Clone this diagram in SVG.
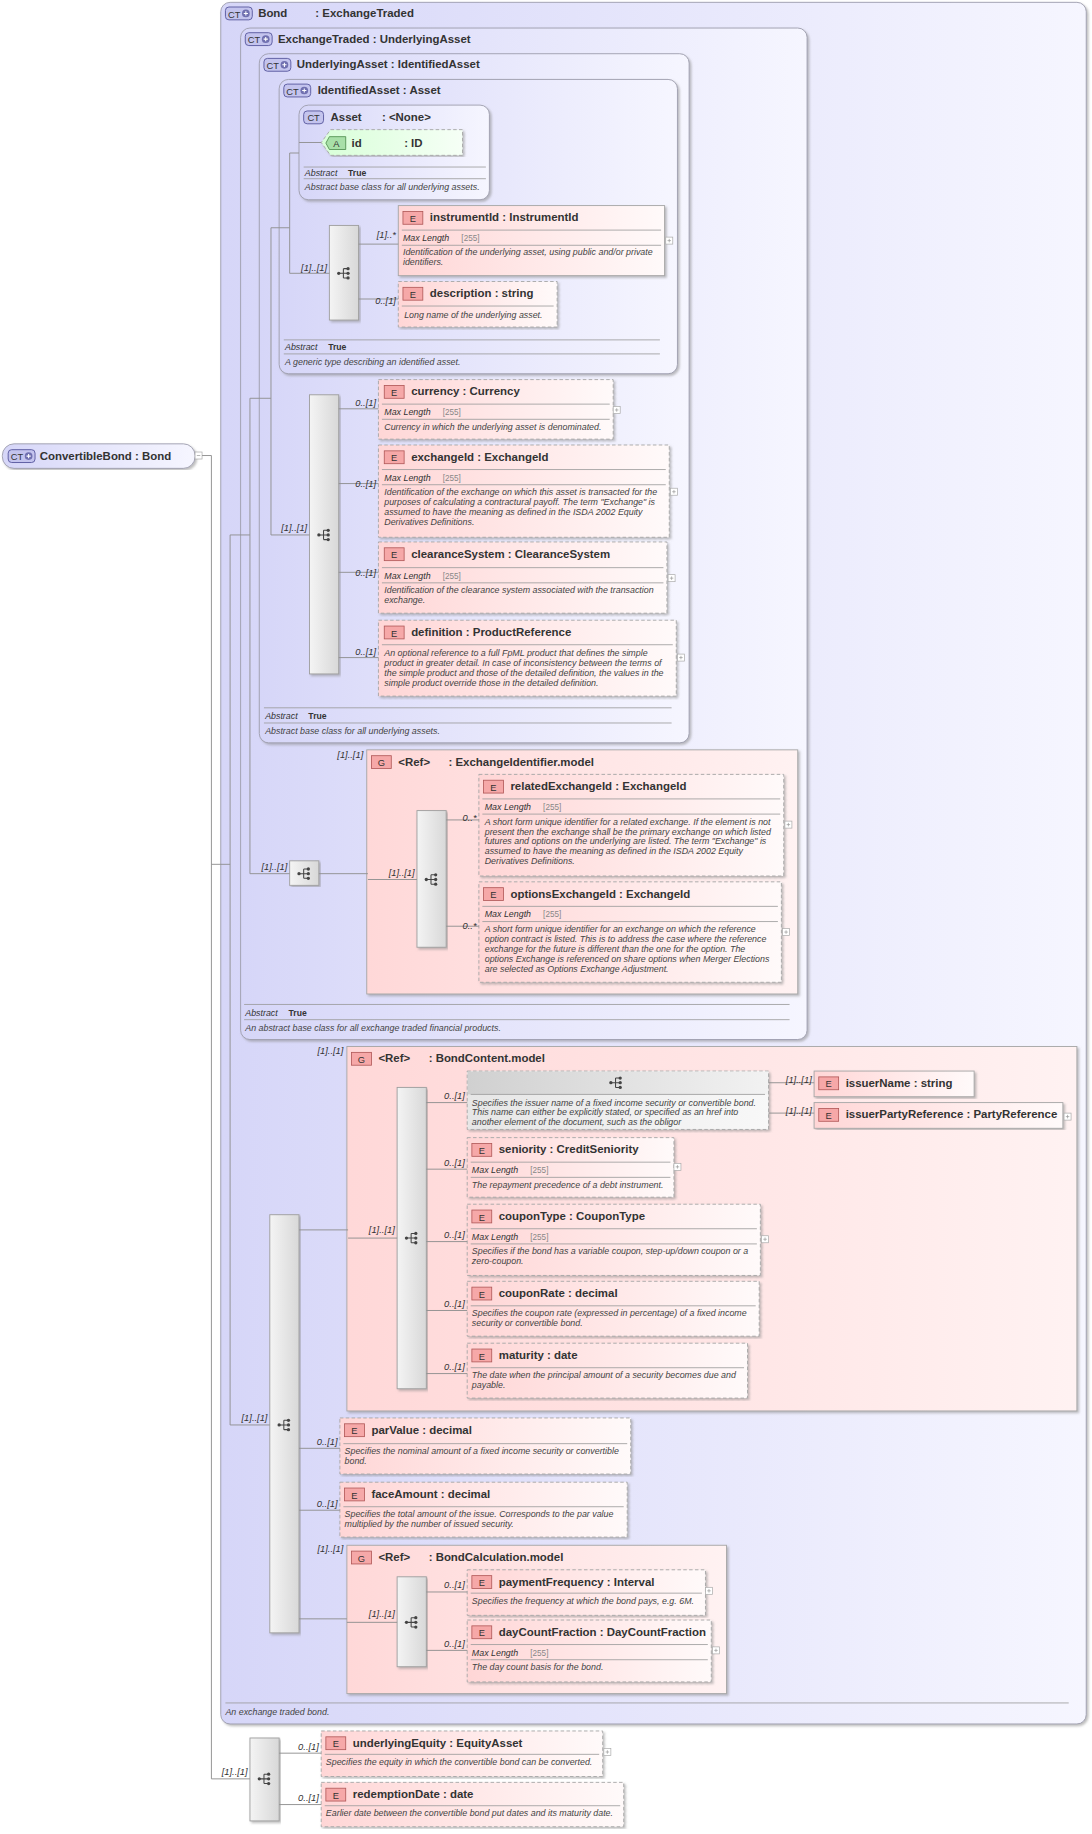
<svg xmlns="http://www.w3.org/2000/svg" xmlns:xlink="http://www.w3.org/1999/xlink" width="1092" height="1834" viewBox="0 0 1092 1834">
<defs>
<linearGradient id="gb" x1="0" y1="0" x2="1" y2="0"><stop offset="0" stop-color="#d6d6f8"/><stop offset="1" stop-color="#f6f6ff"/></linearGradient>
<linearGradient id="ge" x1="0" y1="0" x2="1" y2="0"><stop offset="0" stop-color="#ffd6d6"/><stop offset="1" stop-color="#fffafa"/></linearGradient>
<linearGradient id="gg" x1="0" y1="0" x2="1" y2="0"><stop offset="0" stop-color="#ffd8d8"/><stop offset="1" stop-color="#fff2f2"/></linearGradient>
<linearGradient id="ga" x1="0" y1="0" x2="1" y2="0"><stop offset="0" stop-color="#d8ffd8"/><stop offset="1" stop-color="#f6fff6"/></linearGradient>
<linearGradient id="gs" x1="0" y1="0" x2="1" y2="0"><stop offset="0" stop-color="#f4f4f4"/><stop offset="1" stop-color="#d8d8d8"/></linearGradient>
<linearGradient id="gc" x1="0" y1="0" x2="1" y2="0"><stop offset="0" stop-color="#d0d0d0"/><stop offset="1" stop-color="#f2f2f2"/></linearGradient>
<linearGradient id="gc2" x1="0" y1="0" x2="1" y2="0"><stop offset="0" stop-color="#e6e6e6"/><stop offset="1" stop-color="#f8f8f8"/></linearGradient>
<filter id="sh" x="-5%" y="-5%" width="110%" height="110%"><feDropShadow dx="1.5" dy="1.5" stdDeviation="0.8" flood-color="#888" flood-opacity="0.55"/></filter>
<g id="seqi"><circle cx="-5" cy="0" r="1.4" fill="#444"/><path d="M-5,0H-1M-1,-4V4M-1,-4H3M-1,0H3M-1,4H3" stroke="#444" stroke-width="0.9" fill="none"/><circle cx="3" cy="-4" r="1.4" fill="#444"/><circle cx="3" cy="0" r="1.4" fill="#444"/><circle cx="3" cy="4" r="1.4" fill="#444"/></g>
<g id="plus"><rect x="0" y="0" width="6" height="6" fill="#fff" stroke="#aaa" stroke-width="0.6"/><path d="M1.5,3H4.5M3,1.5V4.5" stroke="#999" stroke-width="0.6"/></g>
<g id="eic"><rect x="0" y="0" width="17" height="11" fill="#f6a8a8" stroke="#b05858" stroke-width="0.7"/><text x="8.5" y="9" text-anchor="middle" class="ic">E</text></g>
<g id="gic"><rect x="0" y="0" width="17" height="11" fill="#f6a8a8" stroke="#b05858" stroke-width="0.7"/><text x="8.5" y="9" text-anchor="middle" class="ic">G</text></g>
<g id="ctp"><rect x="0" y="0" width="23" height="11" rx="3" fill="#c4c4ee" stroke="#5a5aa0" stroke-width="0.8"/><text x="7.5" y="9" text-anchor="middle" class="ic">CT</text><circle cx="17.5" cy="5.5" r="3.3" fill="#7070b0"/><path d="M15.7,5.5H19.3M17.5,3.7V7.3" stroke="#fff" stroke-width="0.9"/></g>
<g id="ct"><rect x="0" y="0" width="17" height="11" rx="3" fill="#c4c4ee" stroke="#5a5aa0" stroke-width="0.8"/><text x="8.5" y="9" text-anchor="middle" class="ic">CT</text></g>
</defs>
<style>
.ct{fill:url(#gb);stroke:#a0a0b0;stroke-width:0.8;filter:url(#sh)}
.eo{fill:url(#ge);stroke:#a8a8a8;stroke-width:0.8;stroke-dasharray:3,2;filter:url(#sh)}
.er{fill:url(#ge);stroke:#a8a8a8;stroke-width:0.8;filter:url(#sh)}
.gr{fill:url(#gg);stroke:#a8a8a8;stroke-width:0.8;filter:url(#sh)}
.sq{fill:url(#gs);stroke:#a0a0a0;stroke-width:0.8;filter:url(#sh)}
.ln{stroke:#909090;stroke-width:0.8;fill:none}
.sp{stroke:#9a9a9a;stroke-width:0.7}
text{font-family:"Liberation Sans",Arial,sans-serif}
.h{font-size:9.8px;font-weight:bold;fill:#333}
.ic{font-size:8px;fill:#333}
.d{font-size:7.6px;font-style:italic;fill:#444}
.ml{font-size:7.6px;font-style:italic;fill:#333}
.mv{font-size:7px;fill:#888}
.lb{font-size:8px;font-style:italic;fill:#333;text-anchor:end}
.ab{font-size:7.4px;font-weight:bold;fill:#333}
</style>
<g transform="scale(1.168)">
<rect width="935" height="1570" fill="#fff"/>

<g id="Bond"><rect class="ct" x="189" y="2" width="741" height="1474" rx="8"/><use xlink:href="#ctp" x="193" y="6"/><text class="h" x="221" y="14.5">Bond</text><text class="h" x="270" y="14.5">: ExchangeTraded</text>
<line class="sp" x1="193" y1="1458" x2="915" y2="1458"/><text class="d" x="193" y="1468.5">An exchange traded bond.</text></g>

<g id="ExchangeTraded"><rect class="ct" x="206" y="24" width="485" height="866" rx="8"/><use xlink:href="#ctp" x="210" y="28"/><text class="h" x="238" y="36.5">ExchangeTraded : UnderlyingAsset</text>
<line class="sp" x1="209" y1="860" x2="676" y2="860"/><text class="ml" x="210" y="869.5">Abstract</text><text class="ab" x="247" y="869.5">True</text><line class="sp" x1="209" y1="873" x2="676" y2="873"/><text class="d" x="210" y="882.5">An abstract base class for all exchange traded financial products.</text></g>

<g id="UnderlyingAsset"><rect class="ct" x="222" y="46" width="368" height="590" rx="8"/><use xlink:href="#ctp" x="226" y="50"/><text class="h" x="254" y="58.5">UnderlyingAsset : IdentifiedAsset</text>
<line class="sp" x1="226" y1="606" x2="575" y2="606"/><text class="ml" x="227" y="615.5">Abstract</text><text class="ab" x="264" y="615.5">True</text><line class="sp" x1="226" y1="619" x2="575" y2="619"/><text class="d" x="227" y="628.5">Abstract base class for all underlying assets.</text></g>

<g id="IdentifiedAsset"><rect class="ct" x="239" y="68" width="341" height="252" rx="8"/><use xlink:href="#ctp" x="243" y="72"/><text class="h" x="272" y="80.5">IdentifiedAsset : Asset</text>
<line class="sp" x1="243" y1="291" x2="565" y2="291"/><text class="ml" x="244" y="300">Abstract</text><text class="ab" x="281" y="300">True</text><line class="sp" x1="243" y1="303" x2="565" y2="303"/><text class="d" x="244" y="312.5">A generic type describing an identified asset.</text></g>

<g id="Asset"><rect class="ct" x="256" y="90" width="163" height="81" rx="8"/><use xlink:href="#ct" x="260" y="95"/><text class="h" x="283" y="103.5">Asset</text><text class="h" x="327" y="103.5">: &lt;None&gt;</text>
<line class="sp" x1="260" y1="143" x2="416" y2="143"/><text class="ml" x="261" y="151">Abstract</text><text class="ab" x="298" y="151">True</text><line class="sp" x1="260" y1="153" x2="416" y2="153"/><text class="d" x="261" y="163">Abstract base class for all underlying assets.</text></g>

<g id="id"><path d="M283,111H396V133H283L275,122Z" fill="url(#ga)" stroke="#a8a8a8" stroke-width="0.8" stroke-dasharray="3,2" filter="url(#sh)"/><path d="M282,117H296V128H282L279,122.5Z" fill="#a8e0a8" stroke="#4a8a4a" stroke-width="0.7"/><text class="ic" x="288" y="126" text-anchor="middle">A</text><text class="h" x="301" y="125.5">id</text><text class="h" x="346" y="125.5">: ID</text></g>

<g id="ConvertibleBond"><rect x="2" y="380" width="165" height="21" rx="10" fill="url(#gb)" stroke="#a0a0b0" stroke-width="0.8" filter="url(#sh)"/><use xlink:href="#ctp" x="7" y="385"/><text class="h" x="34" y="393.5">ConvertibleBond : Bond</text><rect x="167" y="387" width="6" height="6" fill="#fff" stroke="#aaa" stroke-width="0.6"/><path d="M168.5,390H171.5" stroke="#999" stroke-width="0.6"/></g>

<g id="seq-instrument"><rect class="sq" x="282" y="193" width="25" height="81"/><use xlink:href="#seqi" x="295" y="234"/></g>
<g id="seq-currency"><rect class="sq" x="265" y="338" width="25" height="239"/><use xlink:href="#seqi" x="278" y="458"/></g>
<g id="seq-exch"><rect class="sq" x="248" y="737" width="25" height="21"/><use xlink:href="#seqi" x="261" y="748"/></g>
<g id="seq-bond"><rect class="sq" x="231" y="1040" width="25" height="358"/><use xlink:href="#seqi" x="244" y="1220"/></g>
<g id="seq-conv"><rect class="sq" x="214" y="1488" width="25" height="71"/><use xlink:href="#seqi" x="227" y="1523"/></g>

<g id="instrumentId"><rect class="er" x="341" y="176" width="228" height="60"/><use xlink:href="#eic" x="345" y="181"/><text class="h" x="368" y="189.5">instrumentId : InstrumentId</text><line class="sp" x1="344" y1="197" x2="566" y2="197"/><text class="ml" x="345" y="206.5">Max Length</text><text class="mv" x="395" y="206.5">[255]</text><line class="sp" x1="344" y1="210" x2="566" y2="210"/><text class="d" x="345" y="218.5">Identification of the underlying asset, using public and/or private</text><text class="d" x="345" y="227">identifiers.</text><use xlink:href="#plus" x="570" y="203"/></g>
<g id="description"><rect class="eo" x="341" y="241" width="136" height="39"/><use xlink:href="#eic" x="345" y="246"/><text class="h" x="368" y="254.5">description : string</text><line class="sp" x1="344" y1="262" x2="474" y2="262"/><text class="d" x="346" y="272.5">Long name of the underlying asset.</text></g>

<g id="currency"><rect class="eo" x="324" y="325" width="201" height="51"/><use xlink:href="#eic" x="329" y="330"/><text class="h" x="352" y="338.5">currency : Currency</text><line class="sp" x1="327" y1="346" x2="522" y2="346"/><text class="ml" x="329" y="355.5">Max Length</text><text class="mv" x="379" y="355.5">[255]</text><line class="sp" x1="327" y1="359" x2="522" y2="359"/><text class="d" x="329" y="368">Currency in which the underlying asset is denominated.</text><use xlink:href="#plus" x="525" y="348"/></g>
<g id="exchangeId"><rect class="eo" x="324" y="381" width="249" height="79"/><use xlink:href="#eic" x="329" y="386"/><text class="h" x="352" y="394.5">exchangeId : ExchangeId</text><line class="sp" x1="327" y1="402" x2="570" y2="402"/><text class="ml" x="329" y="411.5">Max Length</text><text class="mv" x="379" y="411.5">[255]</text><line class="sp" x1="327" y1="415" x2="570" y2="415"/><text class="d" x="329" y="424">Identification of the exchange on which this asset is transacted for the</text><text class="d" x="329" y="432.5">purposes of calculating a contractural payoff. The term "Exchange" is</text><text class="d" x="329" y="441">assumed to have the meaning as defined in the ISDA 2002 Equity</text><text class="d" x="329" y="449.5">Derivatives Definitions.</text><use xlink:href="#plus" x="574" y="418"/></g>
<g id="clearanceSystem"><rect class="eo" x="324" y="464" width="247" height="61"/><use xlink:href="#eic" x="329" y="469"/><text class="h" x="352" y="477.5">clearanceSystem : ClearanceSystem</text><line class="sp" x1="327" y1="486" x2="568" y2="486"/><text class="ml" x="329" y="495.5">Max Length</text><text class="mv" x="379" y="495.5">[255]</text><line class="sp" x1="327" y1="499" x2="568" y2="499"/><text class="d" x="329" y="508">Identification of the clearance system associated with the transaction</text><text class="d" x="329" y="516.5">exchange.</text><use xlink:href="#plus" x="572" y="492"/></g>
<g id="definition"><rect class="eo" x="324" y="531" width="255" height="65"/><use xlink:href="#eic" x="329" y="536"/><text class="h" x="352" y="544.5">definition : ProductReference</text><line class="sp" x1="327" y1="552" x2="576" y2="552"/><text class="d" x="329" y="562">An optional reference to a full FpML product that defines the simple</text><text class="d" x="329" y="570.5">product in greater detail. In case of inconsistency between the terms of</text><text class="d" x="329" y="579">the simple product and those of the detailed definition, the values in the</text><text class="d" x="329" y="587.5">simple product override those in the detailed definition.</text><use xlink:href="#plus" x="580" y="560"/></g>

<g id="ExchangeIdentifier.model"><rect class="gr" x="314" y="642" width="369" height="209"/><use xlink:href="#gic" x="318" y="647"/><text class="h" x="341" y="655.5">&lt;Ref&gt;</text><text class="h" x="384" y="655.5">: ExchangeIdentifier.model</text>
<rect class="sq" x="357" y="694" width="25" height="117"/><use xlink:href="#seqi" x="370" y="753"/></g>
<g id="relatedExchangeId"><rect class="eo" x="410" y="663" width="261" height="87"/><use xlink:href="#eic" x="414" y="668"/><text class="h" x="437" y="676.5">relatedExchangeId : ExchangeId</text><line class="sp" x1="413" y1="684" x2="668" y2="684"/><text class="ml" x="415" y="693.5">Max Length</text><text class="mv" x="465" y="693.5">[255]</text><line class="sp" x1="413" y1="697" x2="668" y2="697"/><text class="d" x="415" y="706">A short form unique identifier for a related exchange. If the element is not</text><text class="d" x="415" y="714.5">present then the exchange shall be the primary exchange on which listed</text><text class="d" x="415" y="723">futures and options on the underlying are listed. The term "Exchange" is</text><text class="d" x="415" y="731.5">assumed to have the meaning as defined in the ISDA 2002 Equity</text><text class="d" x="415" y="740">Derivatives Definitions.</text><use xlink:href="#plus" x="672" y="703"/></g>
<g id="optionsExchangeId"><rect class="eo" x="410" y="755" width="259" height="86"/><use xlink:href="#eic" x="414" y="760"/><text class="h" x="437" y="768.5">optionsExchangeId : ExchangeId</text><line class="sp" x1="413" y1="776" x2="666" y2="776"/><text class="ml" x="415" y="785.5">Max Length</text><text class="mv" x="465" y="785.5">[255]</text><line class="sp" x1="413" y1="789" x2="666" y2="789"/><text class="d" x="415" y="798">A short form unique identifier for an exchange on which the reference</text><text class="d" x="415" y="806.5">option contract is listed. This is to address the case where the reference</text><text class="d" x="415" y="815">exchange for the future is different than the one for the option. The</text><text class="d" x="415" y="823.5">options Exchange is referenced on share options when Merger Elections</text><text class="d" x="415" y="832">are selected as Options Exchange Adjustment.</text><use xlink:href="#plus" x="670" y="795"/></g>

<g id="BondContent.model"><rect class="gr" x="297" y="896" width="625" height="312"/><use xlink:href="#gic" x="301" y="901"/><text class="h" x="324" y="909.5">&lt;Ref&gt;</text><text class="h" x="367" y="909.5">: BondContent.model</text>
<rect class="sq" x="340" y="931" width="25" height="258"/><use xlink:href="#seqi" x="353" y="1060"/></g>
<g id="choice"><rect x="400" y="917" width="258" height="50" fill="url(#gc2)" stroke="#a8a8a8" stroke-width="0.8" stroke-dasharray="3,2" filter="url(#sh)"/><rect x="400.5" y="917.5" width="257" height="19.5" fill="url(#gc)"/><g transform="translate(528,927)"><path d="M-5,0H-1M-1,-4V4M-1,-4H3M-1,0H3M-1,4H3" stroke="#444" stroke-width="0.9" fill="none"/><circle cx="-5" cy="0" r="1.4" fill="#444"/><circle cx="3" cy="-4" r="1.4" fill="#444"/><circle cx="3" cy="0" r="1.4" fill="#444"/><circle cx="3" cy="4" r="1.4" fill="#444"/></g><line class="sp" x1="403" y1="937" x2="655" y2="937"/><text class="d" x="404" y="946.5">Specifies the issuer name of a fixed income security or convertible bond.</text><text class="d" x="404" y="955">This name can either be explicitly stated, or specified as an href into</text><text class="d" x="404" y="963.5">another element of the document, such as the obligor</text></g>
<g id="issuerName"><rect class="er" x="697" y="917" width="137" height="22"/><use xlink:href="#eic" x="701" y="922"/><text class="h" x="724" y="930.5">issuerName : string</text></g>
<g id="issuerPartyReference"><rect class="er" x="697" y="944" width="213" height="22"/><use xlink:href="#eic" x="701" y="949"/><text class="h" x="724" y="957.5">issuerPartyReference : PartyReference</text><use xlink:href="#plus" x="911" y="953"/></g>
<g id="seniority"><rect class="eo" x="400" y="974" width="177" height="51"/><use xlink:href="#eic" x="404" y="979"/><text class="h" x="427" y="987.5">seniority : CreditSeniority</text><line class="sp" x1="403" y1="995" x2="574" y2="995"/><text class="ml" x="404" y="1004.5">Max Length</text><text class="mv" x="454" y="1004.5">[255]</text><line class="sp" x1="403" y1="1008" x2="574" y2="1008"/><text class="d" x="404" y="1017">The repayment precedence of a debt instrument.</text><use xlink:href="#plus" x="577" y="996"/></g>
<g id="couponType"><rect class="eo" x="400" y="1031" width="251" height="61"/><use xlink:href="#eic" x="404" y="1036"/><text class="h" x="427" y="1044.5">couponType : CouponType</text><line class="sp" x1="403" y1="1052" x2="648" y2="1052"/><text class="ml" x="404" y="1061.5">Max Length</text><text class="mv" x="454" y="1061.5">[255]</text><line class="sp" x1="403" y1="1065" x2="648" y2="1065"/><text class="d" x="404" y="1073.5">Specifies if the bond has a variable coupon, step-up/down coupon or a</text><text class="d" x="404" y="1082">zero-coupon.</text><use xlink:href="#plus" x="652" y="1058"/></g>
<g id="couponRate"><rect class="eo" x="400" y="1097" width="250" height="47"/><use xlink:href="#eic" x="404" y="1102"/><text class="h" x="427" y="1110.5">couponRate : decimal</text><line class="sp" x1="403" y1="1118" x2="647" y2="1118"/><text class="d" x="404" y="1127">Specifies the coupon rate (expressed in percentage) of a fixed income</text><text class="d" x="404" y="1135.5">security or convertible bond.</text></g>
<g id="maturity"><rect class="eo" x="400" y="1150" width="240" height="47"/><use xlink:href="#eic" x="404" y="1155"/><text class="h" x="427" y="1163.5">maturity : date</text><line class="sp" x1="403" y1="1171" x2="637" y2="1171"/><text class="d" x="404" y="1180">The date when the principal amount of a security becomes due and</text><text class="d" x="404" y="1188.5">payable.</text></g>

<g id="parValue"><rect class="eo" x="291" y="1214" width="249" height="48"/><use xlink:href="#eic" x="295" y="1219"/><text class="h" x="318" y="1227.5">parValue : decimal</text><line class="sp" x1="294" y1="1236" x2="537" y2="1236"/><text class="d" x="295" y="1245">Specifies the nominal amount of a fixed income security or convertible</text><text class="d" x="295" y="1253.5">bond.</text></g>
<g id="faceAmount"><rect class="eo" x="291" y="1269" width="246" height="47"/><use xlink:href="#eic" x="295" y="1274"/><text class="h" x="318" y="1282.5">faceAmount : decimal</text><line class="sp" x1="294" y1="1290" x2="534" y2="1290"/><text class="d" x="295" y="1298.5">Specifies the total amount of the issue. Corresponds to the par value</text><text class="d" x="295" y="1307">multiplied by the number of issued security.</text></g>

<g id="BondCalculation.model"><rect class="gr" x="297" y="1323" width="325" height="127"/><use xlink:href="#gic" x="301" y="1328"/><text class="h" x="324" y="1336.5">&lt;Ref&gt;</text><text class="h" x="367" y="1336.5">: BondCalculation.model</text>
<rect class="sq" x="340" y="1350" width="25" height="77"/><use xlink:href="#seqi" x="353" y="1389"/></g>
<g id="paymentFrequency"><rect class="eo" x="400" y="1344" width="204" height="39"/><use xlink:href="#eic" x="404" y="1349"/><text class="h" x="427" y="1357.5">paymentFrequency : Interval</text><line class="sp" x1="403" y1="1364" x2="601" y2="1364"/><text class="d" x="404" y="1373.5">Specifies the frequency at which the bond pays, e.g. 6M.</text><use xlink:href="#plus" x="604" y="1359"/></g>
<g id="dayCountFraction"><rect class="eo" x="400" y="1387" width="209" height="53"/><use xlink:href="#eic" x="404" y="1392"/><text class="h" x="427" y="1400.5">dayCountFraction : DayCountFraction</text><line class="sp" x1="403" y1="1408" x2="606" y2="1408"/><text class="ml" x="404" y="1417.5">Max Length</text><text class="mv" x="454" y="1417.5">[255]</text><line class="sp" x1="403" y1="1421" x2="606" y2="1421"/><text class="d" x="404" y="1429.5">The day count basis for the bond.</text><use xlink:href="#plus" x="610" y="1410"/></g>

<g id="underlyingEquity"><rect class="eo" x="275" y="1482" width="241" height="39"/><use xlink:href="#eic" x="279" y="1487"/><text class="h" x="302" y="1495.5">underlyingEquity : EquityAsset</text><line class="sp" x1="278" y1="1502" x2="513" y2="1502"/><text class="d" x="279" y="1511.5">Specifies the equity in which the convertible bond can be converted.</text><use xlink:href="#plus" x="517" y="1497"/></g>
<g id="redemptionDate"><rect class="eo" x="275" y="1526" width="259" height="38"/><use xlink:href="#eic" x="279" y="1531"/><text class="h" x="302" y="1539.5">redemptionDate : date</text><line class="sp" x1="278" y1="1546" x2="531" y2="1546"/><text class="d" x="279" y="1555">Earlier date between the convertible bond put dates and its maturity date.</text></g>

<g id="connectors">
<path class="ln" d="M173,390H181V1523H214M181,740H197M197,458V1220H231M197,458H214M214,341V748H248M214,341H232M232,195V458H265M232,195H248M248,131V234H282M248,131H256M256,122H275"/>
<path class="ln" d="M307,209H341M307,256H341M290,350H324M290,414H324M290,490H324M290,563H324M273,748H315M315,753H357M382,702H410M382,793H410"/>
<path class="ln" d="M256,1053H298M298,1060H340M365,944H400M365,1001H400M365,1063H400M365,1122H400M365,1176H400M658,927H697M658,953H697M256,1240H291M256,1293H291M256,1386H297M297,1389H340M365,1363H400M365,1413H400M239,1501H275M239,1545H275"/>
<g>
<text class="lb" x="339" y="204">[1]..*</text><text class="lb" x="339" y="260">0..[1]</text><text class="lb" x="280" y="232">[1]..[1]</text>
<text class="lb" x="322" y="348">0..[1]</text><text class="lb" x="322" y="417">0..[1]</text><text class="lb" x="322" y="493">0..[1]</text><text class="lb" x="322" y="561">0..[1]</text>
<text class="lb" x="263" y="455">[1]..[1]</text><text class="lb" x="246" y="745">[1]..[1]</text><text class="lb" x="311" y="649">[1]..[1]</text><text class="lb" x="355" y="750">[1]..[1]</text>
<text class="lb" x="408" y="703">0..*</text><text class="lb" x="408" y="795">0..*</text>
<text class="lb" x="294" y="902">[1]..[1]</text><text class="lb" x="338" y="1056">[1]..[1]</text>
<text class="lb" x="398" y="941">0..[1]</text><text class="lb" x="398" y="998">0..[1]</text><text class="lb" x="398" y="1060">0..[1]</text><text class="lb" x="398" y="1119">0..[1]</text><text class="lb" x="398" y="1173">0..[1]</text>
<text class="lb" x="695" y="927">[1]..[1]</text><text class="lb" x="695" y="954">[1]..[1]</text>
<text class="lb" x="229" y="1217">[1]..[1]</text><text class="lb" x="289" y="1237">0..[1]</text><text class="lb" x="289" y="1290">0..[1]</text>
<text class="lb" x="294" y="1329">[1]..[1]</text><text class="lb" x="338" y="1384">[1]..[1]</text><text class="lb" x="398" y="1360">0..[1]</text><text class="lb" x="398" y="1410">0..[1]</text>
<text class="lb" x="212" y="1520">[1]..[1]</text><text class="lb" x="273" y="1498">0..[1]</text><text class="lb" x="273" y="1542">0..[1]</text>
</g>
</g>
</g>
</svg>
